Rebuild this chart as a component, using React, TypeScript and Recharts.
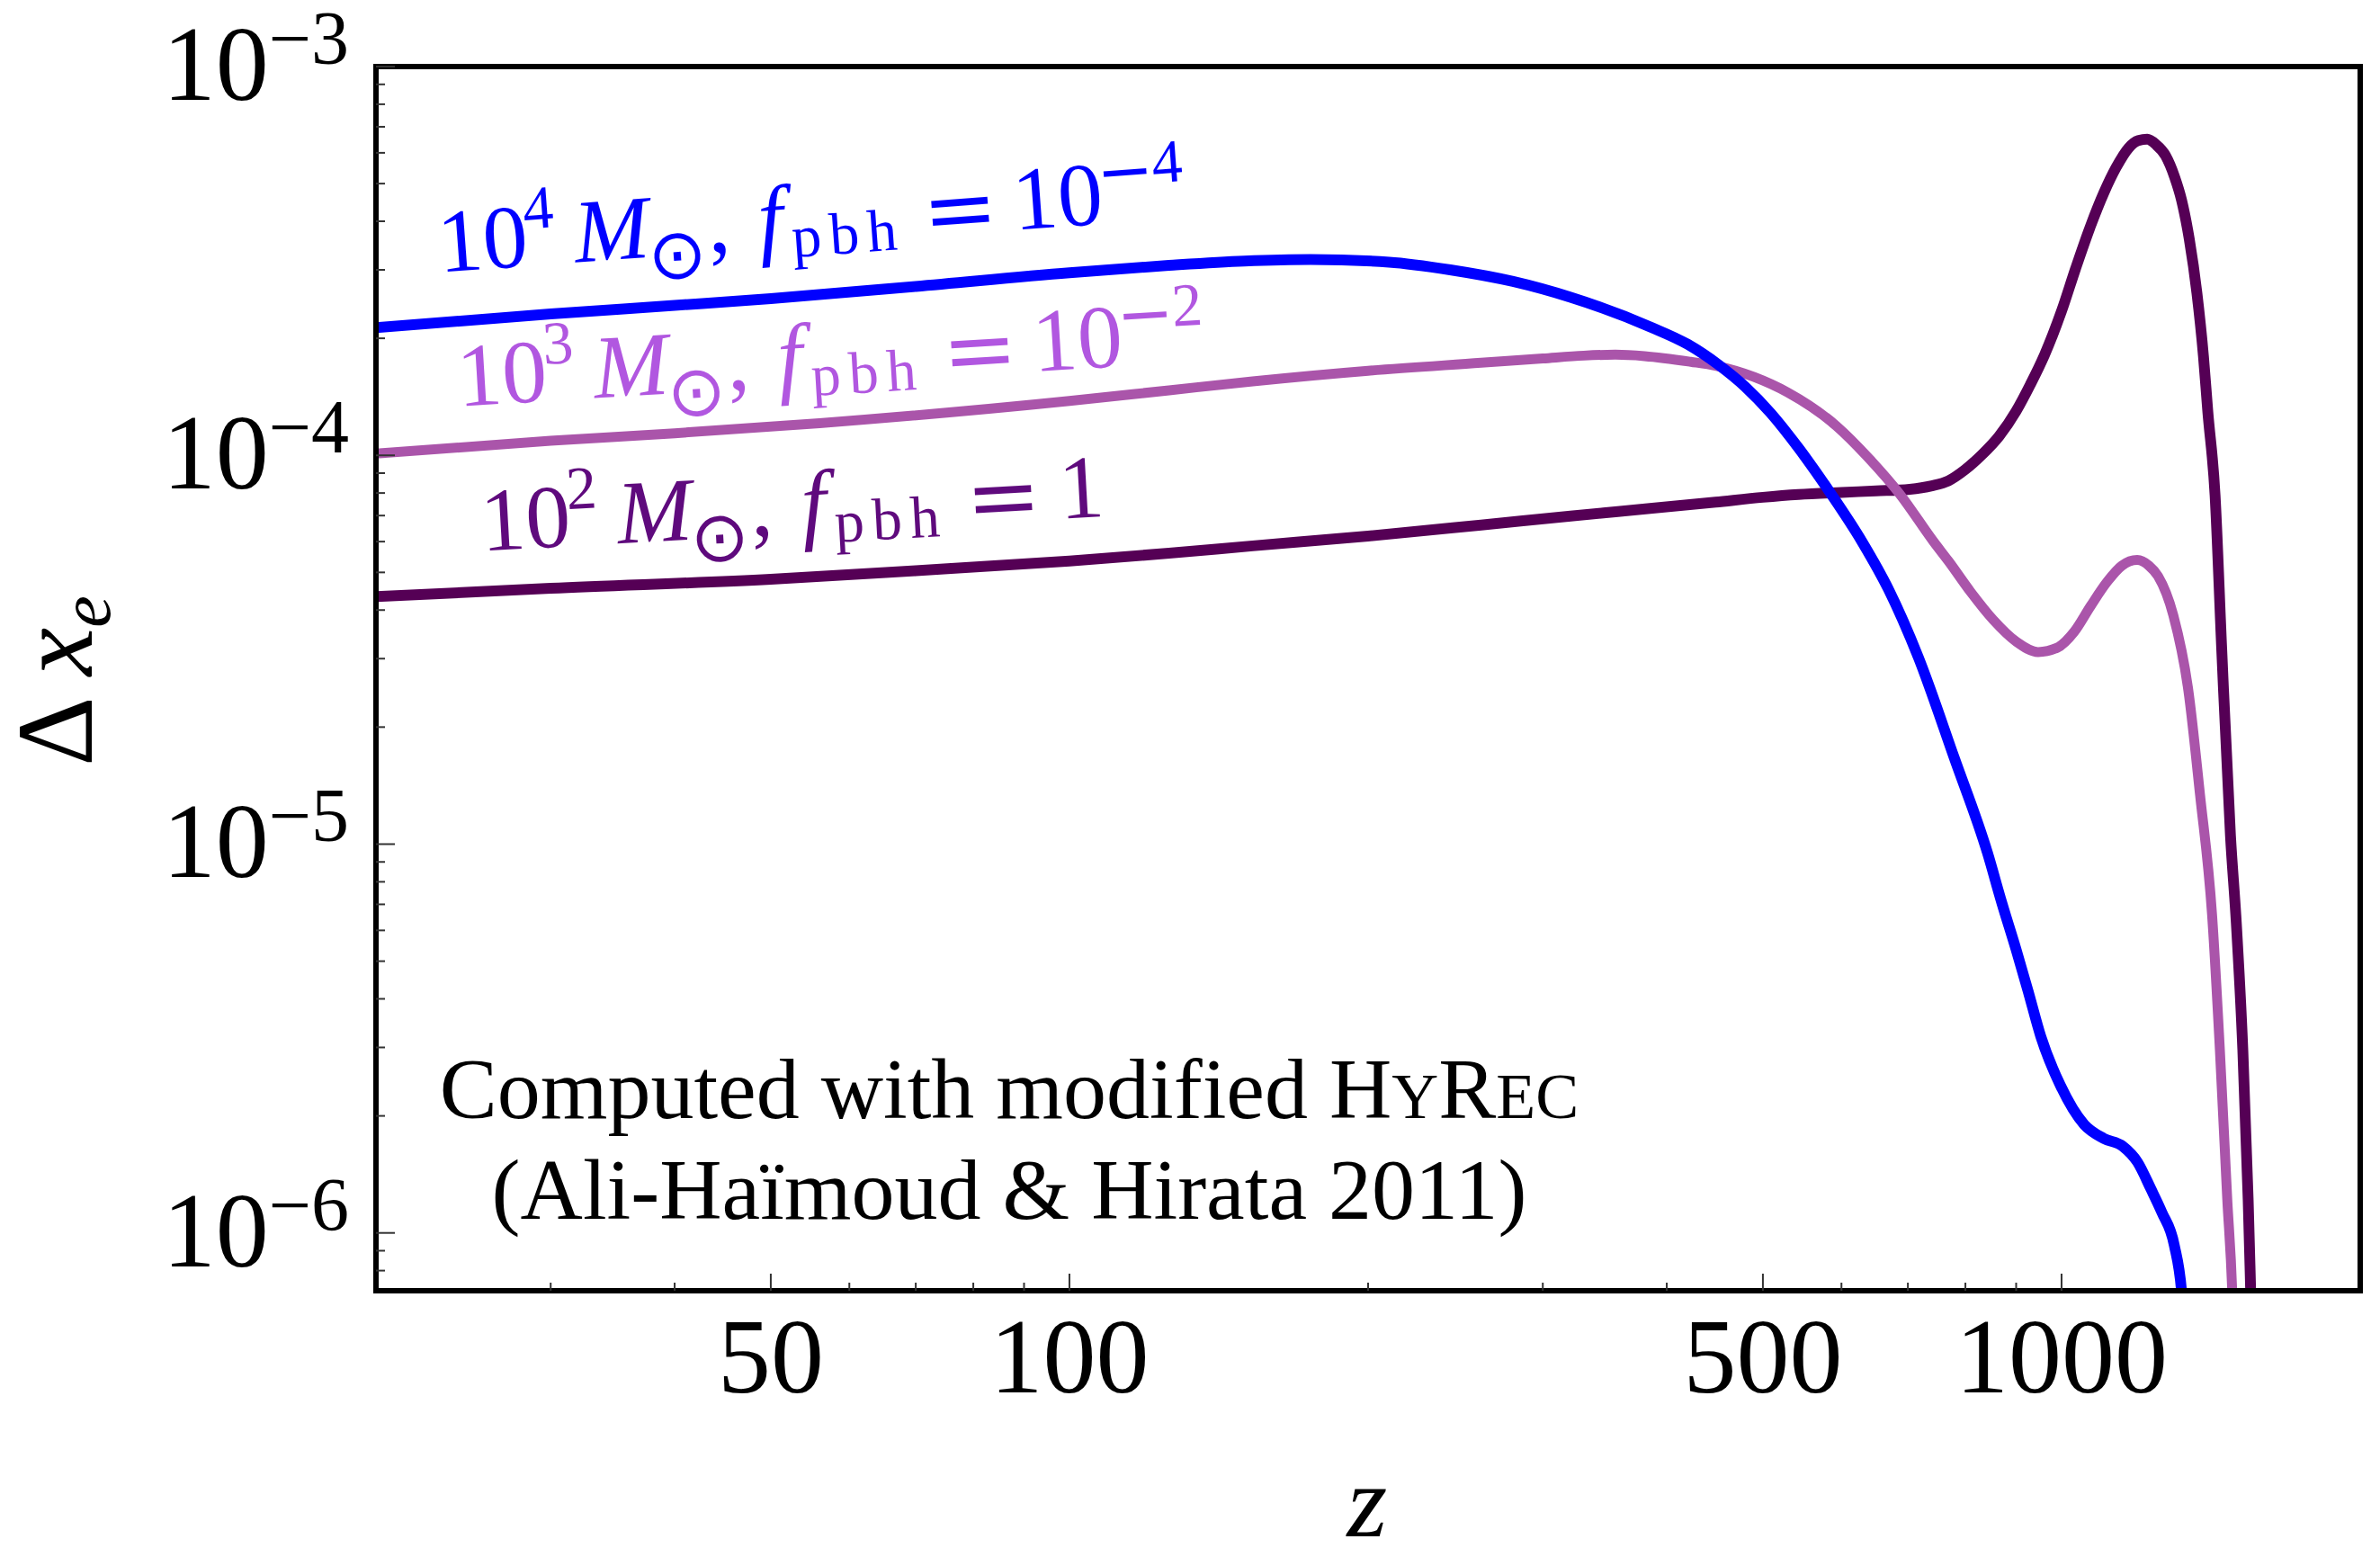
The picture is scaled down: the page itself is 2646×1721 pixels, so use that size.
import React from "react";
import { LineChart, Line, XAxis, YAxis, ReferenceArea } from "recharts";

const W = 2646;
const H = 1721;
const SERIF = "'Liberation Serif', 'Times New Roman', serif";

// 10^4 Msun, f_pbh = 1e-4
const zBlue = [20, 30, 40, 50, 70, 100, 126, 150, 175, 210, 242, 280, 320, 385, 420, 451, 480, 509, 543, 586, 630, 669, 717, 780, 842, 870, 900, 925, 953, 997, 1054, 1103, 1153, 1193, 1230, 1262, 1299, 1321, 1340];
const dxBlue = [2.13e-4, 2.31e-4, 2.43e-4, 2.53e-4, 2.72e-4, 2.95e-4, 3.08e-4, 3.16e-4, 3.19e-4, 3.14e-4, 3.0e-4, 2.8e-4, 2.55e-4, 2.14e-4, 1.93e-4, 1.71e-4, 1.5e-4, 1.285e-4, 1.045e-4, 7.94e-5, 5.97e-5, 4.53e-5, 3.03e-5, 1.66e-5, 9.5e-6, 7.1e-6, 5.35e-6, 4.2e-6, 3.2e-6, 2.4e-6, 1.9e-6, 1.75e-6, 1.67e-6, 1.52e-6, 1.3e-6, 1.13e-6, 9.3e-7, 7.1e-7, 4e-7];

// 10^3 Msun, f_pbh = 1e-2
const zOrchid = [20, 30, 40, 56, 100, 126, 153, 200, 260, 300, 330, 355, 380, 423, 448, 490, 530, 593, 640, 687, 743, 769, 810, 853, 900, 947, 990, 1030, 1070, 1111, 1150, 1192, 1225, 1251, 1296, 1342, 1379, 1418, 1444, 1469, 1486, 1500];
const dxOrchid = [1.01e-4, 1.09e-4, 1.14e-4, 1.21e-4, 1.38e-4, 1.47e-4, 1.55e-4, 1.65e-4, 1.73e-4, 1.775e-4, 1.805e-4, 1.815e-4, 1.8e-4, 1.74e-4, 1.7e-4, 1.59e-4, 1.45e-4, 1.19e-4, 9.8e-5, 7.95e-5, 6.0e-5, 5.35e-5, 4.45e-5, 3.78e-5, 3.32e-5, 3.12e-5, 3.2e-5, 3.52e-5, 4.1e-5, 4.72e-5, 5.2e-5, 5.38e-5, 5.2e-5, 4.89e-5, 3.88e-5, 2.49e-5, 1.34e-5, 6.6e-6, 2.96e-6, 1.22e-6, 7.1e-7, 3e-7];

// 10^2 Msun, f_pbh = 1
const zDark = [20, 30, 50, 70, 100, 126, 153, 200, 260, 320, 357, 448, 500, 543, 600, 650, 703, 740, 769, 800, 830, 865, 900, 930, 961, 1000, 1033, 1070, 1103, 1135, 1168, 1195, 1220, 1245, 1273, 1300, 1321, 1345, 1369, 1390, 1404, 1428, 1450, 1480, 1500, 1523, 1542, 1551, 1565];
const dxDark = [4.33e-5, 4.55e-5, 4.8e-5, 5.05e-5, 5.35e-5, 5.6e-5, 5.85e-5, 6.2e-5, 6.62e-5, 6.98e-5, 7.17e-5, 7.58e-5, 7.8e-5, 7.93e-5, 8.03e-5, 8.1e-5, 8.18e-5, 8.35e-5, 8.6e-5, 9.2e-5, 1.0e-4, 1.12e-4, 1.3e-4, 1.52e-4, 1.81e-4, 2.35e-4, 3.02e-4, 3.9e-4, 4.73e-4, 5.5e-4, 6.17e-4, 6.45e-4, 6.5e-4, 6.3e-4, 5.9e-4, 5.2e-4, 4.54e-4, 3.6e-4, 2.62e-4, 1.8e-4, 1.3e-4, 7.9e-5, 3.2e-5, 1.05e-5, 6.3e-6, 2.96e-6, 1.22e-6, 7.1e-7, 3e-7];

const xTicks = [30, 40, 50, 60, 70, 80, 90, 100, 200, 300, 400, 500, 600, 700, 800, 900, 1000];
const xLabeled = [50, 100, 500, 1000];
const yTicks = [
  8e-7, 9e-7,
  1e-6, 2e-6, 3e-6, 4e-6, 5e-6, 6e-6, 7e-6, 8e-6, 9e-6,
  1e-5, 2e-5, 3e-5, 4e-5, 5e-5, 6e-5, 7e-5, 8e-5, 9e-5,
  1e-4, 2e-4, 3e-4, 4e-4, 5e-4, 6e-4, 7e-4, 8e-4, 9e-4,
  1e-3,
];
const zRange = [20, 2000];
const dxRange = [7.1e-7, 1e-3];

const toRows = (zs: number[], vals: number[]) => zs.map((z, i) => ({ z, dx: vals[i] }));
const blueData = toRows(zBlue, dxBlue);
const orchidData = toRows(zOrchid, dxOrchid);
const darkData = toRows(zDark, dxDark);

const isDecade = (v: number) => Math.abs(Math.log10(v) - Math.round(Math.log10(v))) < 1e-6;

const TICK_STROKE = "#333";
const FRAME = { stroke: "#000", strokeWidth: 6, strokeLinecap: "square" as const };

function XTick(props: any) {
  const { x, y, payload, side } = props;
  const v = payload.value;
  const major = xLabeled.includes(v);
  const len = major ? 19 : 9;
  const dir = side === "bottom" ? -1 : 1;
  return (
    <g>
      <line x1={x} x2={x} y1={y} y2={y + dir * len} stroke={TICK_STROKE} strokeWidth={2} />
      {side === "bottom" && major && (
        <text x={x} y={y + 113} textAnchor="middle" fontSize={118} fontFamily={SERIF} fill="#000">
          {v}
        </text>
      )}
    </g>
  );
}

function YTick(props: any) {
  const { x, y, payload, side } = props;
  const v = payload.value;
  const major = isDecade(v);
  const len = major ? 21 : 10;
  const dir = side === "left" ? 1 : -1;
  const exp = Math.round(Math.log10(v));
  return (
    <g>
      <line x1={x} x2={x + dir * len} y1={y} y2={y} stroke={TICK_STROKE} strokeWidth={2} />
      {side === "left" && major && (
        <text x={x - 30} y={y + 37} textAnchor="end" fontSize={118} fontFamily={SERIF} fill="#000">
          10
          <tspan dy={-40} fontSize={84}>
            {"\u2212" + Math.abs(exp)}
          </tspan>
        </text>
      )}
    </g>
  );
}

// rotated math label: 10^mass M_sun, f_pbh = base^power
function MassLabel(props: {
  x0: number;
  y0: number;
  angle: number;
  color: string;
  mass: string;
  base: string;
  power?: string;
}) {
  const { x0, y0, angle, color, mass, base, power } = props;
  return (
    <text transform={`rotate(${angle} ${x0} ${y0})`} fill={color} fontFamily={SERIF} fontSize={100}>
      <tspan x={x0 - 11} y={y0}>10</tspan>
      <tspan x={x0 + 86} y={y0 - 41} fontSize={68}>{mass}</tspan>
      <tspan x={x0 + 141} y={y0} fontStyle="italic">M</tspan>
      <tspan x={x0 + 221} y={y0 + 26} fontSize={78} fontFamily="'DejaVu Sans'">{"\u2299"}</tspan>
      <tspan x={x0 + 289} y={y0}>,</tspan>
      <tspan x={x0 + 346} y={y0} fontStyle="italic">f</tspan>
      <tspan x={x0 + 382} y={y0 + 12} fontSize={66} letterSpacing={9}>pbh</tspan>
      <tspan x={x0 + 529} y={y0 + 6} fontFamily="'DejaVu Serif'">=</tspan>
      <tspan x={x0 + 630 + (base === "1" ? 3 : 0)} y={y0}>{base}</tspan>
      {power && (
        <>
          <tspan x={x0 + 725} y={y0 - 31} fontSize={76} fontFamily="'DejaVu Sans'">{"\u2212"}</tspan>
          <tspan x={x0 + 787} y={y0 - 41} fontSize={68}>{power}</tspan>
        </>
      )}
    </text>
  );
}

export default function App() {
  return (
    <div style={{ position: "absolute", left: 0, top: 0, width: W, height: H, background: "#fff" }}>
      <LineChart width={W} height={H} margin={{ top: 74, right: 22, bottom: 0, left: 0 }}>
        <XAxis
          xAxisId="b"
          dataKey="z"
          type="number"
          scale="log"
          domain={zRange}
          allowDataOverflow
          ticks={xTicks}
          interval={0}
          tickSize={0}
          tickMargin={0}
          tickLine={false}
          tick={(p: any) => <XTick {...p} side="bottom" />}
          axisLine={FRAME}
          height={286}
        />
        <XAxis
          xAxisId="t"
          orientation="top"
          dataKey="z"
          type="number"
          scale="log"
          domain={zRange}
          allowDataOverflow
          ticks={xTicks}
          interval={0}
          tickSize={0}
          tickMargin={0}
          tickLine={false}
          tick={(p: any) => <XTick {...p} side="top" />}
          axisLine={FRAME}
          height={0}
        />
        <YAxis
          yAxisId="l"
          type="number"
          scale="log"
          domain={dxRange}
          allowDataOverflow
          ticks={yTicks}
          interval={0}
          tickSize={0}
          tickMargin={0}
          tickLine={false}
          tick={(p: any) => <YTick {...p} side="left" />}
          axisLine={FRAME}
          width={418}
        />
        <YAxis
          yAxisId="r"
          orientation="right"
          type="number"
          scale="log"
          domain={dxRange}
          allowDataOverflow
          ticks={yTicks}
          interval={0}
          tickSize={0}
          tickMargin={0}
          tickLine={false}
          tick={(p: any) => <YTick {...p} side="right" />}
          axisLine={FRAME}
          width={0}
        />
        {/* plot frame */}
        <ReferenceArea
          xAxisId="b"
          yAxisId="l"
          x1={zRange[0]}
          x2={zRange[1]}
          y1={dxRange[0]}
          y2={dxRange[1]}
          fill="none"
          stroke="#000"
          strokeWidth={6}
        />
        <Line
          xAxisId="b"
          yAxisId="l"
          data={darkData}
          dataKey="dx"
          type="monotone"
          stroke="#550055"
          strokeWidth={12}
          dot={false}
          activeDot={false}
          isAnimationActive={false}
        />
        <Line
          xAxisId="b"
          yAxisId="l"
          data={orchidData}
          dataKey="dx"
          type="monotone"
          stroke="#aa55aa"
          strokeWidth={11}
          dot={false}
          activeDot={false}
          isAnimationActive={false}
        />
        <Line
          xAxisId="b"
          yAxisId="l"
          data={blueData}
          dataKey="dx"
          type="monotone"
          stroke="#0000ff"
          strokeWidth={12}
          dot={false}
          activeDot={false}
          isAnimationActive={false}
        />
      </LineChart>
      <svg
        width={W}
        height={H}
        style={{ position: "absolute", left: 0, top: 0, pointerEvents: "none" }}
      >
        <MassLabel x0={500} y0={302} angle={-4.2} color="#0000ff" mass="4" base="10" power="4" />
        <MassLabel x0={521} y0={451} angle={-3.45} color="#b157e0" mass="3" base="10" power="2" />
        <MassLabel x0={547} y0={612} angle={-3.2} color="#5f0a7d" mass="2" base="1" />

        <text x={1122} y={1243} textAnchor="middle" fontSize={96} fontFamily={SERIF} fill="#000">
          Computed with modified H<tspan fontSize={72}>Y</tspan>R<tspan fontSize={72}>EC</tspan>
        </text>
        <text x={1122} y={1355} textAnchor="middle" fontSize={96} fontFamily={SERIF} fill="#000">
          (Ali-Haïmoud &amp; Hirata 2011)
        </text>

        <text
          transform="rotate(-90 102 757)"
          x={102}
          y={757}
          textAnchor="middle"
          fontSize={120}
          fontFamily={SERIF}
          fill="#000"
        >
          {"\u0394 "}
          <tspan fontStyle="italic">x</tspan>
          <tspan fontStyle="italic" fontSize={80} dy={20}>
            e
          </tspan>
        </text>
        <text x={1520} y={1708} textAnchor="middle" fontStyle="italic" fontSize={115} fontFamily={SERIF} fill="#000">
          z
        </text>
      </svg>
    </div>
  );
}
